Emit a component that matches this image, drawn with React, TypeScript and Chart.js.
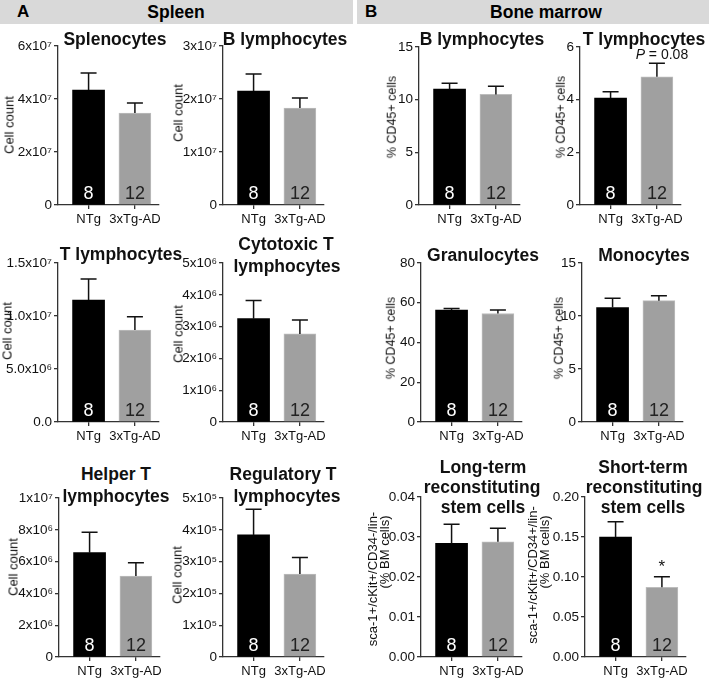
import React, { useEffect, useRef } from "react";
import { Chart, registerables } from "chart.js";
Chart.register(...registerables);

const FONT = '"Liberation Sans", Arial, Helvetica, sans-serif';

// ---------- data ----------
const groups = ["NTg", "3xTg-AD"];
const groupN = ["8", "12"];

// Spleen (cell counts)
const splenocytesMean = [4.34e7, 3.47e7];
const splenocytesSem = [0.64e7, 0.38e7];
const splenocytesTicks = [0, 2e7, 4e7, 6e7];
const splenocytesTickLabels = ["0", "2x10⁷", "4x10⁷", "6x10⁷"];

const spleenBMean = [2.15e7, 1.83e7];
const spleenBSem = [0.32e7, 0.19e7];
const spleenBTicks = [0, 1e7, 2e7, 3e7];
const spleenBTickLabels = ["0", "1x10⁷", "2x10⁷", "3x10⁷"];

const spleenTMean = [1.15e7, 0.868e7];
const spleenTSem = [0.2e7, 0.125e7];
const spleenTTicks = [0, 5e6, 1e7, 1.5e7];
const spleenTTickLabels = ["0.0", "5.0x10⁶", "1.0x10⁷", "1.5x10⁷"];

const cytotoxicMean = [3.25e6, 2.77e6];
const cytotoxicSem = [0.57e6, 0.44e6];
const cytotoxicTicks = [0, 1e6, 2e6, 3e6, 4e6, 5e6];
const cytotoxicTickLabels = ["0", "1x10⁶", "2x10⁶", "3x10⁶", "4x10⁶", "5x10⁶"];

const helperMean = [6.56e6, 5.09e6];
const helperSem = [1.28e6, 0.84e6];
const helperTicks = [0, 2e6, 4e6, 6e6, 8e6, 1e7];
const helperTickLabels = ["0", "2x10⁶", "4x10⁶", "6x10⁶", "8x10⁶", "1x10⁷"];

const regulatoryMean = [3.84e5, 2.61e5];
const regulatorySem = [0.81e5, 0.52e5];
const regulatoryTicks = [0, 1e5, 2e5, 3e5, 4e5, 5e5];
const regulatoryTickLabels = ["0", "1x10⁵", "2x10⁵", "3x10⁵", "4x10⁵", "5x10⁵"];

// Bone marrow (% cells)
const bmBMean = [11.0, 10.5];
const bmBSem = [0.55, 0.78];
const bmBTicks = [0, 5, 10, 15];
const bmBTickLabels = ["0", "5", "10", "15"];

const bmTMean = [4.06, 4.87];
const bmTSem = [0.24, 0.51];
const bmTTicks = [0, 2, 4, 6];
const bmTTickLabels = ["0", "2", "4", "6"];

const granMean = [56.3, 54.6];
const granSem = [0.8, 1.7];
const granTicks = [0, 20, 40, 60, 80];
const granTickLabels = ["0", "20", "40", "60", "80"];

const monoMean = [10.8, 11.45];
const monoSem = [0.87, 0.45];
const monoTicks = [0, 5, 10, 15];
const monoTickLabels = ["0", "5", "10", "15"];

const ltMean = [0.0284, 0.0288];
const ltSem = [0.0048, 0.0034];
const ltTicks = [0, 0.01, 0.02, 0.03, 0.04];
const ltTickLabels = ["0.00", "0.01", "0.02", "0.03", "0.04"];

const stMean = [0.15, 0.0872];
const stSem = [0.019, 0.013];
const stTicks = [0, 0.05, 0.1, 0.15, 0.2];
const stTickLabels = ["0.00", "0.05", "0.10", "0.15", "0.20"];

// ---------- layout ----------
const PLOT_W = 101;
const Y_W = 56;
const PAD_T = 12;
const X_H = 30;
const PAD_R = 10;
const X_MIN = -0.66;
const X_MAX = 1.52;

type Txt = [string, number, number];
type PanelDef = {
  mean: number[];
  sem: number[];
  ticks: number[];
  tickLabels: string[];
  axisX: number;
  topY: number;
  zeroY: number;
  title: Txt[];
  ylab: Txt[];
  ylabSize?: number;
  note?: { kind: "p" | "star"; index: number };
};

const panels: PanelDef[] = [
  { mean: splenocytesMean, sem: splenocytesSem, ticks: splenocytesTicks, tickLabels: splenocytesTickLabels,
    axisX: 58, topY: 46, zeroY: 205, title: [["Splenocytes", 115, 40]], ylab: [["Cell count", 9, 125]] },
  { mean: spleenBMean, sem: spleenBSem, ticks: spleenBTicks, tickLabels: spleenBTickLabels,
    axisX: 223, topY: 46, zeroY: 205, title: [["B lymphocytes", 285, 40]], ylab: [["Cell count", 178, 113]] },
  { mean: bmBMean, sem: bmBSem, ticks: bmBTicks, tickLabels: bmBTickLabels,
    axisX: 419, topY: 47, zeroY: 205, title: [["B lymphocytes", 482, 40]], ylab: [["% CD45+ cells", 392, 117]], ylabSize: 12.5 },
  { mean: bmTMean, sem: bmTSem, ticks: bmTTicks, tickLabels: bmTTickLabels,
    axisX: 580, topY: 47, zeroY: 205, title: [["T lymphocytes", 644, 40]], ylab: [["% CD45+ cells", 561, 117]], ylabSize: 12.5,
    note: { kind: "p", index: 1 } },
  { mean: spleenTMean, sem: spleenTSem, ticks: spleenTTicks, tickLabels: spleenTTickLabels,
    axisX: 58, topY: 263, zeroY: 422, title: [["T lymphocytes", 121, 255]], ylab: [["Cell count", 7, 331]] },
  { mean: cytotoxicMean, sem: cytotoxicSem, ticks: cytotoxicTicks, tickLabels: cytotoxicTickLabels,
    axisX: 223, topY: 263, zeroY: 422, title: [["Cytotoxic T", 286, 245], ["lymphocytes", 287, 267]], ylab: [["Cell count", 178, 334]] },
  { mean: granMean, sem: granSem, ticks: granTicks, tickLabels: granTickLabels,
    axisX: 421, topY: 263, zeroY: 422, title: [["Granulocytes", 483, 256]], ylab: [["% CD45+ cells", 391, 338]], ylabSize: 12.5 },
  { mean: monoMean, sem: monoSem, ticks: monoTicks, tickLabels: monoTickLabels,
    axisX: 582, topY: 263, zeroY: 422, title: [["Monocytes", 644, 256]], ylab: [["% CD45+ cells", 559, 338]], ylabSize: 12.5 },
  { mean: helperMean, sem: helperSem, ticks: helperTicks, tickLabels: helperTickLabels,
    axisX: 59, topY: 498, zeroY: 657, title: [["Helper T", 116, 475], ["lymphocytes", 116, 497]], ylab: [["Cell count", 13, 567]] },
  { mean: regulatoryMean, sem: regulatorySem, ticks: regulatoryTicks, tickLabels: regulatoryTickLabels,
    axisX: 223, topY: 498, zeroY: 657, title: [["Regulatory T", 283, 475], ["lymphocytes", 287, 497]], ylab: [["Cell count", 177, 575]] },
  { mean: ltMean, sem: ltSem, ticks: ltTicks, tickLabels: ltTickLabels,
    axisX: 421, topY: 497, zeroY: 657,
    title: [["Long-term", 483, 468], ["reconstituting", 482, 488], ["stem cells", 483, 508]],
    ylab: [["sca-1+/cKit+/CD34-/lin-", 372, 579], ["(% BM cells)", 384, 552]] },
  { mean: stMean, sem: stSem, ticks: stTicks, tickLabels: stTickLabels,
    axisX: 585, topY: 497, zeroY: 657,
    title: [["Short-term", 643, 468], ["reconstituting", 644, 488], ["stem cells", 643, 508]],
    ylab: [["sca-1+/cKit+/CD34+/lin-", 532, 575], ["(% BM cells)", 544, 552]],
    note: { kind: "star", index: 1 } },
];

function Panel({ p }: { p: PanelDef }) {
  const ref = useRef<HTMLCanvasElement>(null);
  const plotH = p.zeroY - p.topY;
  const w = Y_W + PLOT_W + PAD_R;
  const h = PAD_T + plotH + X_H;

  useEffect(() => {
    const overlay = {
      id: "overlay",
      afterDatasetsDraw(chart: any) {
        const ctx = chart.ctx;
        const meta = chart.getDatasetMeta(0);
        const ys = chart.scales.y;
        ctx.save();
        meta.data.forEach((el: any, i: number) => {
          const top = ys.getPixelForValue(p.mean[i] + p.sem[i]);
          ctx.strokeStyle = "#111";
          ctx.lineWidth = 1.5;
          ctx.beginPath();
          ctx.moveTo(el.x, el.y);
          ctx.lineTo(el.x, top);
          ctx.moveTo(el.x - 8, top);
          ctx.lineTo(el.x + 8, top);
          ctx.stroke();
          ctx.fillStyle = i === 0 ? "#ffffff" : "#222222";
          ctx.font = `18px ${FONT}`;
          ctx.textAlign = "center";
          ctx.textBaseline = "middle";
          ctx.fillText(groupN[i], el.x, ys.getPixelForValue(0) - 11);
        });
        if (p.note) {
          const el = meta.data[p.note.index];
          const i = p.note.index;
          const top = ys.getPixelForValue(p.mean[i] + p.sem[i]);
          ctx.fillStyle = "#111";
          if (p.note.kind === "p") {
            ctx.textBaseline = "middle";
            ctx.textAlign = "left";
            ctx.font = `italic 14px ${FONT}`;
            const wP = ctx.measureText("P").width;
            ctx.font = `14px ${FONT}`;
            const wR = ctx.measureText(" = 0.08").width;
            const x0 = el.x + 5 - (wP + wR) / 2;
            const y = top - 8;
            ctx.font = `italic 14px ${FONT}`;
            ctx.fillText("P", x0, y);
            ctx.font = `14px ${FONT}`;
            ctx.fillText(" = 0.08", x0 + wP, y);
          } else {
            ctx.textAlign = "center";
            ctx.textBaseline = "alphabetic";
            ctx.font = `17px ${FONT}`;
            ctx.fillText("*", el.x, top - 5);
          }
        }
        ctx.restore();
      },
    };

    const chart = new Chart(ref.current as HTMLCanvasElement, {
      type: "bar",
      data: {
        datasets: [
          {
            data: p.mean.map((m, i) => ({ x: i, y: m })),
            backgroundColor: ["#000000", "#a0a0a0"],
            borderColor: ["#000000", "#bdbdbd"],
            borderWidth: [0, 1],
            barThickness: 32,
          } as any,
        ],
      },
      options: {
        responsive: false,
        animation: false,
        events: [],
        layout: { padding: { top: PAD_T, right: PAD_R, left: 0, bottom: 0 } },
        plugins: { legend: { display: false }, tooltip: { enabled: false }, title: { display: false } },
        scales: {
          x: {
            type: "linear",
            min: X_MIN,
            max: X_MAX,
            offset: false,
            grid: { offset: false, drawOnChartArea: false, drawTicks: true, tickLength: 4, color: "#333", lineWidth: 1.3 },
            border: { display: true, color: "#333", width: 1.3 },
            ticks: {
              font: { family: FONT, size: 13 },
              color: "#111",
              padding: 3,
              maxRotation: 0,
              autoSkip: false,
              callback: (v: any) => groups[v as number],
            },
            afterBuildTicks: (s: any) => {
              s.ticks = [{ value: 0 }, { value: 1 }];
            },
            afterFit: (s: any) => {
              s.height = X_H;
            },
          },
          y: {
            type: "linear",
            min: 0,
            max: p.ticks[p.ticks.length - 1],
            grid: { drawOnChartArea: false, drawTicks: true, tickLength: 4, color: "#333", lineWidth: 1.3 },
            border: { display: true, color: "#333", width: 1.3 },
            ticks: {
              font: { family: FONT, size: 13.5 },
              color: "#111",
              padding: 2,
              autoSkip: false,
              callback: (_v: any, i: number) => p.tickLabels[i],
            },
            afterBuildTicks: (s: any) => {
              s.ticks = p.ticks.map((v) => ({ value: v }));
            },
            afterFit: (s: any) => {
              s.width = Y_W;
            },
          },
        },
      } as any,
      plugins: [overlay],
    });
    return () => chart.destroy();
  }, []);

  const textStyle = (cx: number, cy: number, extra: any) => ({
    position: "absolute" as const,
    left: cx,
    top: cy,
    transform: "translate(-50%,-50%)",
    whiteSpace: "nowrap" as const,
    lineHeight: 1,
    color: "#111",
    ...extra,
  });

  return (
    <>
      <canvas
        ref={ref}
        width={w}
        height={h}
        style={{ position: "absolute", left: p.axisX - Y_W, top: p.topY - PAD_T, width: w, height: h }}
      />
      {p.title.map(([t, cx, cy], k) => (
        <div key={"t" + k} style={textStyle(cx, cy, { fontWeight: "bold", fontSize: 17.5 })}>
          {t}
        </div>
      ))}
      {p.ylab.map(([t, cx, cy], k) => (
        <div
          key={"y" + k}
          style={textStyle(cx, cy, {
            fontSize: p.ylabSize || 13,
            transform: "translate(-50%,-50%) rotate(-90deg)",
          })}
        >
          {t}
        </div>
      ))}
    </>
  );
}

export default function App() {
  return (
    <div
      style={{
        position: "absolute",
        left: 0,
        top: 0,
        width: 709,
        height: 678,
        background: "#fff",
        fontFamily: FONT,
        overflow: "hidden",
      }}
    >
      <div style={{ position: "absolute", left: 0, top: 0, width: 353, height: 24, background: "#d9d9d9" }} />
      <div style={{ position: "absolute", left: 357, top: 0, width: 352, height: 24, background: "#d9d9d9" }} />
      <div style={{ position: "absolute", left: 17, top: 3, fontWeight: "bold", fontSize: 17, lineHeight: "18px" }}>A</div>
      <div style={{ position: "absolute", left: 176, top: 3, transform: "translateX(-50%)", fontWeight: "bold", fontSize: 17.5, lineHeight: "18px" }}>
        Spleen
      </div>
      <div style={{ position: "absolute", left: 365, top: 3, fontWeight: "bold", fontSize: 17, lineHeight: "18px" }}>B</div>
      <div style={{ position: "absolute", left: 546, top: 3, transform: "translateX(-50%)", fontWeight: "bold", fontSize: 17.5, lineHeight: "18px", whiteSpace: "nowrap" }}>
        Bone marrow
      </div>
      {panels.map((p, i) => (
        <Panel key={i} p={p} />
      ))}
    </div>
  );
}
